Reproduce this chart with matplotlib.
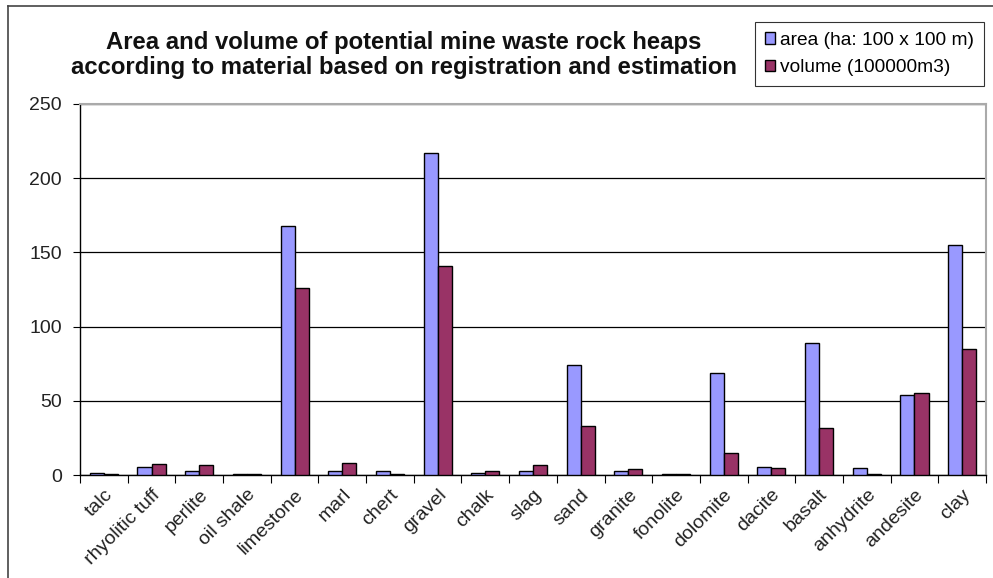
import numpy as np
import matplotlib
matplotlib.use("Agg")
import matplotlib.pyplot as plt
from matplotlib.lines import Line2D

plt.rcParams['font.family'] = ['Liberation Sans', 'DejaVu Sans']

# materiais e valores (area em ha, volume em 100000 m3)
materiais = ['talc', 'rhyolitic tuff', 'perlite', 'oil shale', 'limestone', 'marl',
             'chert', 'gravel', 'chalk', 'slag', 'sand', 'granite', 'fonolite',
             'dolomite', 'dacite', 'basalt', 'anhydrite', 'andesite', 'clay']
area = [1.5, 5.5, 2.5, 0.5, 168, 3, 2.5, 217, 1.5, 3, 74, 2.5, 0.5, 69, 5.5, 89, 5, 54, 155]
volume = [0.5, 7.5, 6.5, 0.5, 126, 8, 0.5, 141, 3, 6.5, 33, 4, 0.5, 15, 5, 32, 0.5, 55, 85]

fig = plt.figure(figsize=(9.93, 5.78), dpi=100)
ax = fig.add_axes([80/993, 1-475/578, (986-80)/993, (475-104)/578])

x = np.arange(len(materiais))
w = 0.295
ax.bar(x - w/2, area, w, color='#9999FF', edgecolor='black', linewidth=1.0,
       label='area (ha: 100 x 100 m)', zorder=3)
ax.bar(x + w/2, volume, w, color='#993366', edgecolor='black', linewidth=1.0,
       label='volume (100000m3)', zorder=3)

ax.set_xlim(-0.5, len(materiais) - 0.5)
ax.set_ylim(0, 250)
ax.set_yticks([0, 50, 100, 150, 200, 250])
ax.yaxis.grid(True, color='black', linewidth=0.9, zorder=0)
ax.tick_params(axis='y', labelsize=14, length=5, direction='out', pad=8, colors='black',
               labelcolor='#222222')
ax.set_xticks(np.arange(len(materiais) + 1) - 0.5, minor=False)
ax.set_xticklabels([])
ax.set_xticks(x, minor=True)
ax.set_xticklabels(materiais, minor=True, rotation=45, ha='right',
                   rotation_mode='anchor', fontsize=14, color='#222222')
ax.tick_params(axis='x', which='major', length=6, direction='out')
ax.tick_params(axis='x', which='minor', length=0, pad=8)

for s in ['top', 'right']:
    ax.spines[s].set_color('#aaaaaa')
    ax.spines[s].set_linewidth(1.5)
for s in ['left', 'bottom']:
    ax.spines[s].set_color('black')
    ax.spines[s].set_linewidth(1.0)

fig.text(0.407, 1-55/578, 'Area and volume of potential mine waste rock heaps\n'
         'according to material based on registration and estimation',
         ha='center', va='center', fontsize=17.2, fontweight='bold', linespacing=1.08,
         color='#111111')

leg = fig.legend(loc='upper left', bbox_to_anchor=(755/993, 1-22/578), fontsize=13.8,
                 frameon=True, fancybox=False, edgecolor='black', handlelength=0.55,
                 handleheight=0.55, handletextpad=0.25, borderpad=0.5, labelspacing=0.55,
                 borderaxespad=0)
leg.get_frame().set_linewidth(0.8)

# moldura do grafico
fig.add_artist(Line2D([8/993, 8/993], [0, 1-6/578], color='#444444', linewidth=1.2))
fig.add_artist(Line2D([8/993, 1], [1-6/578, 1-6/578], color='#444444', linewidth=1.2))

fig.savefig('out.png', dpi=100)
